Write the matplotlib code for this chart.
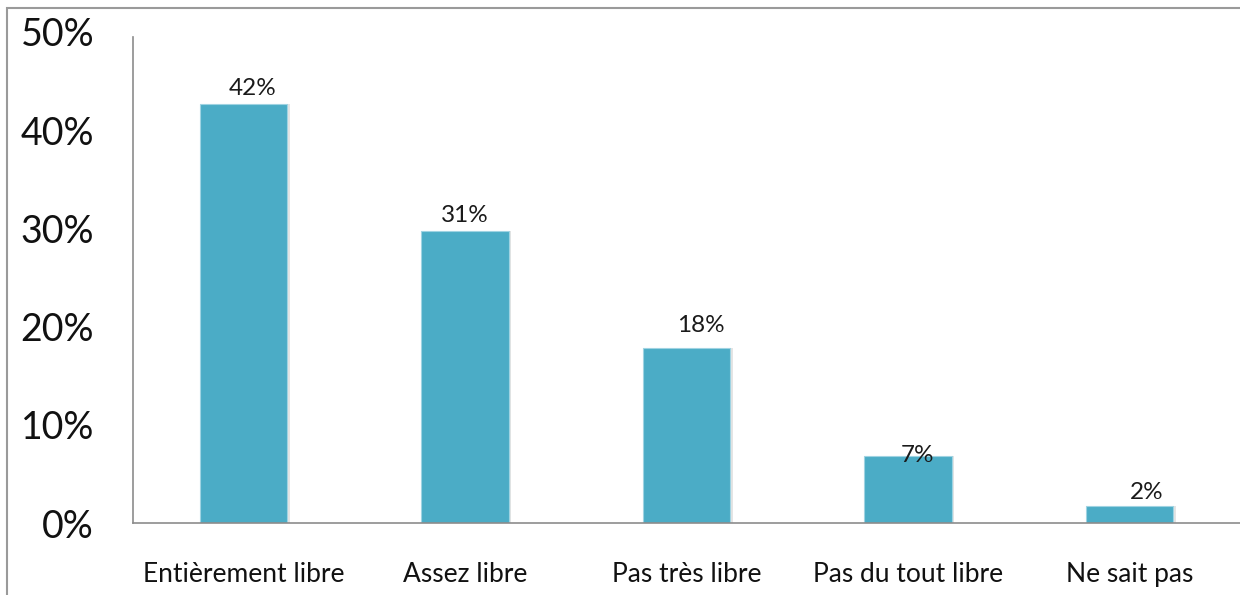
import matplotlib.pyplot as plt
from matplotlib.patches import Rectangle
from matplotlib.ticker import FuncFormatter

plt.rcParams['font.family'] = ['Lato', 'DejaVu Sans']

# Données
categories = ['Entièrement libre', 'Assez libre', 'Pas très libre', 'Pas du tout libre', 'Ne sait pas']
valeurs = [42.7, 29.7, 17.8, 6.8, 1.7]
etiquettes = ['42%', '31%', '18%', '7%', '2%']

couleur_barre = '#4bacc6'
couleur_axe = '#8c8c8c'

fig = plt.figure(figsize=(12.4, 5.95), dpi=100)
ax = fig.add_axes([133 / 1240, 72 / 595, 1107 / 1240, 491 / 595])

x = range(len(categories))

# ombre légère à droite des barres
ax.bar([i + 0.012 for i in x], valeurs, width=0.395, color='#e4e4e4', zorder=1)
ax.bar(x, valeurs, width=0.395, color=couleur_barre, edgecolor='#9fd3e2', linewidth=0.8, zorder=2)

# étiquettes de valeurs (décalages repris de l'original)
decalages = [(9, 5), (0, 5), (14, 12), (10, -10), (17, 3)]
for i, (v, txt) in enumerate(zip(valeurs, etiquettes)):
    ax.annotate(txt, (i, v), xytext=decalages[i], textcoords='offset pixels',
                ha='center', va='bottom', fontsize=17.5, color='#1a1a1a', zorder=3)

ax.set_xlim(-0.5, 4.5)
ax.set_ylim(0, 50)
ax.set_yticks([0, 10, 20, 30, 40, 50])
ax.yaxis.set_major_formatter(FuncFormatter(lambda v, p: f'{int(v)}%'))
ax.set_xticks(list(x))
ax.set_xticklabels(categories)

ax.tick_params(axis='y', length=0, pad=28, labelsize=27, labelcolor='#111111')
ax.tick_params(axis='x', length=0, pad=28, labelsize=19, labelcolor='#111111')

for cote in ['top', 'right']:
    ax.spines[cote].set_visible(False)
ax.spines['left'].set_color(couleur_axe)
ax.spines['bottom'].set_color(couleur_axe)
ax.spines['left'].set_linewidth(1.2)
ax.spines['bottom'].set_linewidth(1.2)
ax.spines['left'].set_bounds(0, 49.5)

# cadre gris autour de la zone du graphique
fig.patches.append(Rectangle((7 / 1240, -0.1), 1.2, 1.1 - 8 / 595, transform=fig.transFigure,
                             fill=False, edgecolor='#9a9a9a', linewidth=1.5))

fig.savefig('out.png', dpi=100)
